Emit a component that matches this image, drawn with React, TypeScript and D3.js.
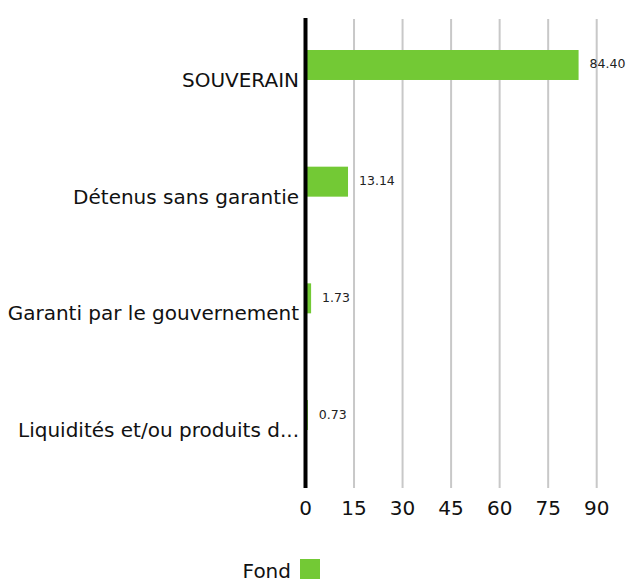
import * as d3 from "d3";

const categories = [
  "SOUVERAIN",
  "Détenus sans garantie",
  "Garanti par le gouvernement",
  "Liquidités et/ou produits d...",
];
const fondValues = [84.4, 13.14, 1.73, 0.73];
const xTicks = [0, 15, 30, 45, 60, 75, 90];
const seriesName = "Fond";

const width = 628;
const height = 579;
const x0 = 305.5;
const x1 = 596.7;
const top = 19;
const bottom = 488;
const green = "#73c935";
const font = "'DejaVu Sans', sans-serif";

export default function App() {
  const xScale = d3.scaleLinear().domain([0, 90]).range([x0, x1]);
  const yScale = d3
    .scaleBand<string>()
    .domain(categories)
    .range([50, 430])
    .paddingInner(0.743)
    .paddingOuter(0);
  const bw = yScale.bandwidth();

  return (
    <svg
      width={width}
      height={height}
      style={{ position: "absolute", left: 0, top: 0 }}
      fontFamily={font}
    >
      {xTicks.map((t) =>
        t === 0 ? null : (
          <line
            key={t}
            x1={xScale(t)}
            x2={xScale(t)}
            y1={top}
            y2={bottom}
            stroke="#c8c8c8"
            strokeWidth={2}
          />
        )
      )}
      {categories.map((c, i) => (
        <g key={c}>
          <rect
            x={xScale(0)}
            y={yScale(c)}
            width={xScale(fondValues[i]) - xScale(0)}
            height={bw}
            fill={green}
          />
          <text
            x={xScale(fondValues[i]) + 11}
            y={(yScale(c) ?? 0) + bw / 2 + 3.5}
            fontSize={12.5}
            fill="#222"
          >
            {fondValues[i].toFixed(2)}
          </text>
          <text
            x={299}
            y={(yScale(c) ?? 0) + bw + 7}
            textAnchor="end"
            fontSize={20}
            fill="#111"
          >
            {c}
          </text>
        </g>
      ))}
      <line
        x1={x0}
        x2={x0}
        y1={18}
        y2={bottom}
        stroke="#000"
        strokeWidth={4}
      />
      {xTicks.map((t) => (
        <text
          key={t}
          x={xScale(t)}
          y={515}
          textAnchor="middle"
          fontSize={20}
          fill="#111"
        >
          {t}
        </text>
      ))}
      <text x={291} y={577.5} textAnchor="end" fontSize={20} fill="#111">
        {seriesName}
      </text>
      <rect x={300} y={559} width={20} height={20} fill={green} />
    </svg>
  );
}
